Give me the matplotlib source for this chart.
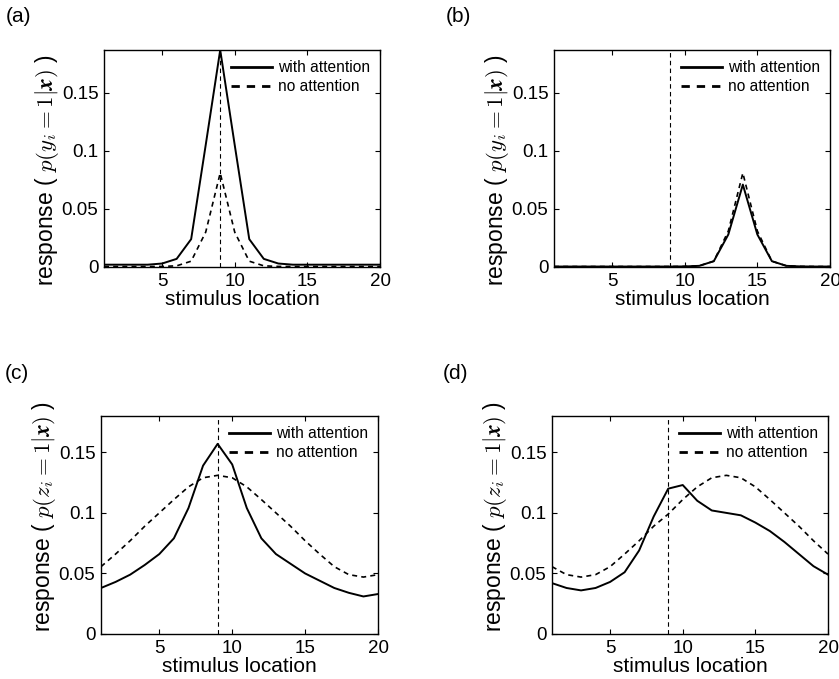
import numpy as np
import matplotlib
matplotlib.use('Agg')
import matplotlib.pyplot as plt

# 刺激位置 1..20
location = np.arange(1, 21)

# (a) 响应 p(y_i=1|x), 注意力在 9, 刺激在 9
a_with = [0.002, 0.002, 0.002, 0.002, 0.003, 0.007, 0.024, 0.105, 0.187, 0.105,
          0.024, 0.007, 0.003, 0.002, 0.002, 0.002, 0.002, 0.002, 0.002, 0.002]
a_none = [0.0004, 0.0004, 0.0004, 0.0004, 0.0005, 0.001, 0.005, 0.03, 0.081, 0.03,
          0.005, 0.001, 0.0005, 0.0004, 0.0004, 0.0004, 0.0004, 0.0004, 0.0004, 0.0004]

# (b) 刺激在 14
b_with = [0.0004, 0.0004, 0.0004, 0.0004, 0.0004, 0.0004, 0.0004, 0.0004, 0.0004, 0.0005,
          0.001, 0.005, 0.028, 0.071, 0.028, 0.005, 0.001, 0.0005, 0.0004, 0.0004]
b_none = [0.0004, 0.0004, 0.0004, 0.0004, 0.0004, 0.0004, 0.0004, 0.0004, 0.0004, 0.0005,
          0.001, 0.005, 0.031, 0.081, 0.031, 0.005, 0.001, 0.0005, 0.0004, 0.0004]

# (c) 响应 p(z_i=1|x)
c_with = [0.038, 0.043, 0.049, 0.057, 0.066, 0.079, 0.104, 0.139, 0.157, 0.140,
          0.104, 0.079, 0.066, 0.058, 0.050, 0.044, 0.038, 0.034, 0.031, 0.033]
c_none = [0.0556, 0.066, 0.077, 0.089, 0.100, 0.111, 0.1215, 0.129, 0.131, 0.129,
          0.1215, 0.111, 0.100, 0.089, 0.077, 0.066, 0.0556, 0.049, 0.047, 0.049]

# (d)
d_with = [0.042, 0.038, 0.036, 0.038, 0.043, 0.051, 0.069, 0.097, 0.120, 0.123,
          0.110, 0.102, 0.100, 0.098, 0.092, 0.085, 0.076, 0.066, 0.056, 0.049]
d_none = [0.0556, 0.049, 0.047, 0.049, 0.0556, 0.066, 0.077, 0.089, 0.099, 0.111,
          0.1215, 0.129, 0.131, 0.129, 0.1215, 0.111, 0.100, 0.089, 0.077, 0.066]

attend_loc = 9
panel_names = ['(a)', '(b)', '(c)', '(d)']
ylabels = [r'response ( $p(y_i = 1|\mathbfit{x})$ )',
           r'response ( $p(y_i = 1|\mathbfit{x})$ )',
           r'response ( $p(z_i = 1|\mathbfit{x})$ )',
           r'response ( $p(z_i = 1|\mathbfit{x})$ )']
series = [(a_with, a_none), (b_with, b_none), (c_with, c_none), (d_with, d_none)]
ytops = [0.187, 0.187, 0.18, 0.18]

plt.rcParams['font.family'] = ['Liberation Sans', 'DejaVu Sans']
plt.rcParams['mathtext.fontset'] = 'cm'

W, H = 839, 679
fig = plt.figure(figsize=(W / 100, H / 100), dpi=100)

# 轴的像素位置 (left, top, right, bottom)
boxes = [(104, 50, 380, 267), (554, 50, 830, 267),
         (101, 416, 378, 634), (552, 416, 828, 634)]
letter_pos = [(6, 17), (446, 17), (5, 373), (443, 373)]
ylabel_y = [0.445, 0.445, 0.54, 0.54]

for i in range(4):
    l, t, r, b = boxes[i]
    ax = fig.add_axes([l / W, 1 - b / H, (r - l) / W, (b - t) / H])
    w, n = series[i]
    ax.plot(location, w, color='black', lw=1.4, ls='-', label='with attention')
    ax.plot(location, n, color='black', lw=1.2, ls=(0, (3, 2.5)), label='no attention')
    ax.axvline(attend_loc, color='black', lw=0.8, ls=(0, (4, 3)))

    ax.set_xlim(1, 20)
    ax.set_ylim(0, ytops[i])
    ax.set_xticks([5, 10, 15, 20])
    ax.set_yticks([0, 0.05, 0.1, 0.15])
    ax.set_yticklabels(['0', '0.05', '0.1', '0.15'])
    ax.tick_params(direction='in', top=True, right=True, length=3.5, width=0.8,
                   labelsize=13.5, pad=4)
    for s in ax.spines.values():
        s.set_linewidth(1.0)

    ax.set_xlabel('stimulus location', fontsize=15, labelpad=0)
    ax.set_ylabel(ylabels[i], fontsize=16.5)
    ax.yaxis.set_label_coords(-0.155, ylabel_y[i])

    leg = ax.legend(loc='upper right', frameon=False, fontsize=11.2,
                    handlelength=2.6, handletextpad=0.4, labelspacing=0.25,
                    borderaxespad=0.25)
    for h in leg.get_lines():
        h.set_linewidth(2.0)

    fig.text(letter_pos[i][0] / W, 1 - letter_pos[i][1] / H, panel_names[i],
             fontsize=15, ha='left', va='center')

fig.savefig('out.png', dpi=100)
